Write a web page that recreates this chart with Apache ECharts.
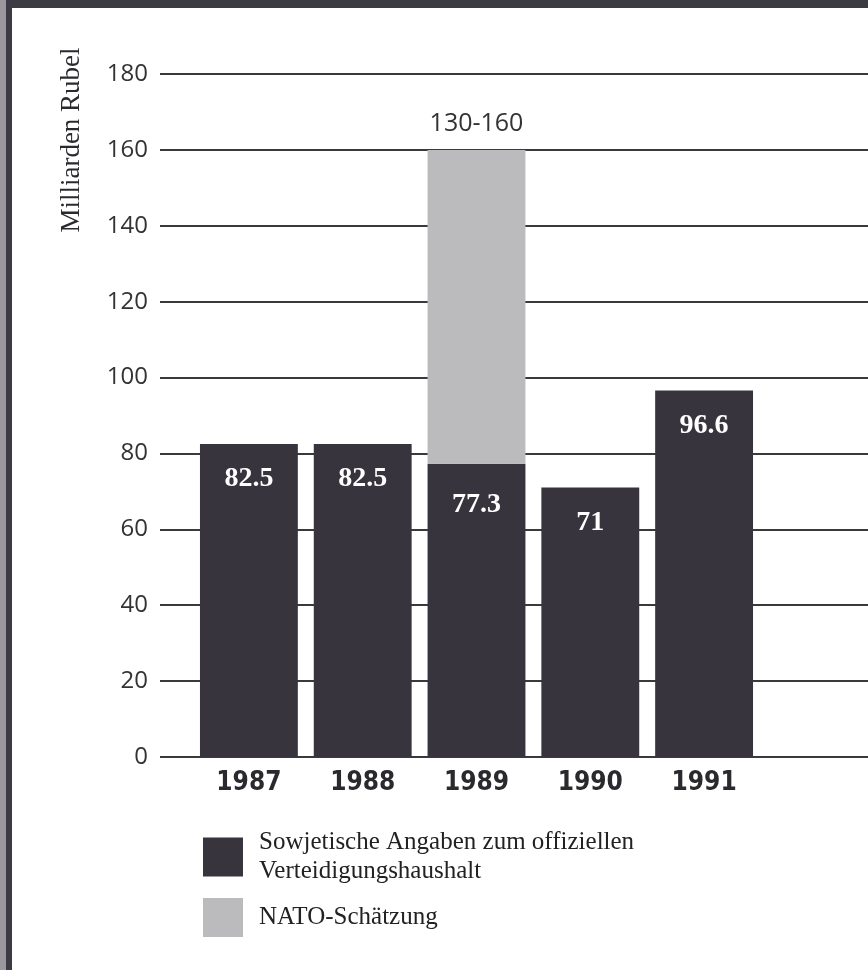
<!DOCTYPE html>
<html>
<head>
<meta charset="utf-8">
<script src="https://cdn.jsdelivr.net/npm/echarts@6/dist/echarts.min.js"></script>
<style>
  html, body { margin: 0; padding: 0; background: #fff; }
  #chart { width: 868px; height: 970px; }
</style>
</head>
<body>
<div id="chart"></div>
<script>
// Daten
const years = ['1987', '1988', '1989', '1990', '1991'];
const official = [82.5, 82.5, 77.3, 71, 96.6];
const natoHigh = [null, null, 160, null, null];
const natoRange = ['', '', '130-160', '', ''];
const yTicks = [0, 20, 40, 60, 80, 100, 120, 140, 160, 180];

const OFFICIAL_NAME = 'Sowjetische Angaben zum offiziellen Verteidigungshaushalt';
const NATO_NAME = 'NATO-Schätzung';

const DARK = '#37343d';
const GREY = '#bbbbbe';

const chart = echarts.init(document.getElementById('chart'));

// NATO-Anteil über dem offiziellen Wert stapeln
const natoPart = natoHigh.map((v, i) => (v == null ? null : +(v - official[i]).toFixed(1)));

const option = {
  backgroundColor: '#fff',
  animation: false,
  grid: [
    { left: 160, right: 0, top: 74, bottom: 213 },
    { left: 192, width: 569, top: 74, bottom: 213 },
  ],
  xAxis: [
    { type: 'category', gridIndex: 0, show: false, data: [''] },
    {
      type: 'category',
      gridIndex: 1,
      data: years,
      axisLine: { show: false },
      axisTick: { show: false },
      axisLabel: {
        margin: 13,
        fontFamily: '"DejaVu Sans Condensed", "Liberation Sans Narrow", sans-serif',
        fontWeight: 'bold',
        fontSize: 26,
        color: '#2a2a2e',
      },
    },
  ],
  yAxis: [
    {
      type: 'value',
      gridIndex: 0,
      min: 0,
      max: 180,
      interval: 20,
      axisLine: { show: false },
      axisTick: { show: false },
      axisLabel: {
        margin: 12,
        fontFamily: '"Open Sans", sans-serif',
        fontSize: 24,
        color: '#333',
        formatter: v => (yTicks.includes(v) ? String(v) : ''),
      },
      splitLine: { lineStyle: { color: '#3a3a3e', width: 2 } },
    },
    { type: 'value', gridIndex: 1, min: 0, max: 180, interval: 20, show: false, splitLine: { show: false } },
  ],
  legend: {
    orient: 'vertical',
    left: 198,
    top: 823,
    itemWidth: 40,
    itemHeight: 39,
    itemGap: 12,
    icon: 'rect',
    data: [OFFICIAL_NAME, NATO_NAME],
    formatter: name =>
      name === OFFICIAL_NAME ? 'Sowjetische Angaben zum offiziellen\nVerteidigungshaushalt' : name,
    textStyle: {
      fontFamily: '"Liberation Serif", "DejaVu Serif", serif',
      fontSize: 25,
      lineHeight: 29,
      color: '#222',
      padding: [0, 0, 0, 11],
    },
  },
  series: [
    {
      name: OFFICIAL_NAME,
      type: 'bar',
      xAxisIndex: 1,
      yAxisIndex: 1,
      stack: 'total',
      barCategoryGap: '14%',
      itemStyle: { color: DARK },
      data: official.map((v, i) =>
        i === 2 ? { value: v, label: { distance: 27 } } : v
      ),
      label: {
        show: true,
        position: 'insideTop',
        distance: 21,
        fontFamily: '"Liberation Serif", "DejaVu Serif", serif',
        fontWeight: 'bold',
        fontSize: 28,
        color: '#fff',
      },
    },
    {
      name: NATO_NAME,
      type: 'bar',
      xAxisIndex: 1,
      yAxisIndex: 1,
      stack: 'total',
      barCategoryGap: '14%',
      itemStyle: { color: GREY },
      data: natoPart,
      label: {
        show: true,
        position: 'top',
        distance: 14,
        fontFamily: '"Open Sans", sans-serif',
        fontSize: 25,
        color: '#333',
        formatter: p => natoRange[p.dataIndex],
      },
    },
  ],
  graphic: [
    // Rahmen
    { type: 'rect', left: 0, top: 0, shape: { width: 868, height: 8 }, style: { fill: '#3c3a42' }, silent: true },
    { type: 'rect', left: 0, top: 0, shape: { width: 6, height: 970 }, style: { fill: '#9a989e' }, silent: true },
    { type: 'rect', left: 6, top: 0, shape: { width: 6, height: 970 }, style: { fill: '#3c3a42' }, silent: true },
    {
      type: 'text',
      x: 72,
      y: 140,
      rotation: Math.PI / 2,
      style: {
        text: 'Milliarden Rubel',
        fontFamily: '"Liberation Serif", "DejaVu Serif", serif',
        fontSize: 27,
        fill: '#2a2a2e',
        align: 'center',
        verticalAlign: 'middle',
      },
    },
  ],
};

chart.setOption(option);
</script>
</body>
</html>
